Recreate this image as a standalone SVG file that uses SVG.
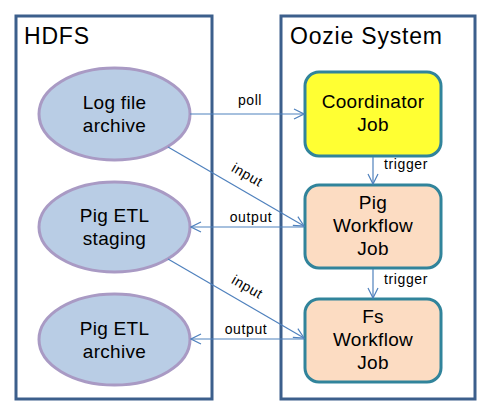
<svg xmlns="http://www.w3.org/2000/svg" width="490" height="415" viewBox="0 0 490 415">
<defs>
<style>
.frame{fill:#fff;stroke:#3C5F8C;stroke-width:3}
.ell{fill:#B9CDE5;stroke:#A99AC4;stroke-width:3}
.job{stroke:#31849B;stroke-width:3}
.t{font-family:"Liberation Sans",Arial,sans-serif;font-size:19px;fill:#000;text-anchor:middle;letter-spacing:0.3px}
.title{font-family:"Liberation Sans",Arial,sans-serif;font-size:23px;fill:#000;letter-spacing:0.8px}
.lbl{font-family:"Liberation Sans",Arial,sans-serif;font-size:14px;fill:#000;text-anchor:middle;letter-spacing:0.6px}
.c{stroke:#4F81BD;stroke-width:1.2;fill:none;marker-end:url(#a)}
</style>
<marker id="a" viewBox="0 0 12 12" refX="11" refY="6" markerWidth="12" markerHeight="12" markerUnits="userSpaceOnUse" orient="auto">
<path d="M1,1 L11,6 L1,11" fill="none" stroke="#4F81BD" stroke-width="1.2"/>
</marker>
</defs>
<g id="hdfs">
<rect class="frame" x="16" y="16" width="196" height="383"/>
<text class="title" x="24" y="44">HDFS</text>
</g>
<g id="oozie">
<rect class="frame" x="281" y="16" width="194" height="383"/>
<text class="title" x="290" y="44">Oozie System</text>
</g>
<g id="logfile">
<ellipse class="ell" cx="114.5" cy="114" rx="75.5" ry="46"/>
<text class="t" x="114.5" y="109">Log file</text>
<text class="t" x="114.5" y="132">archive</text>
</g>
<g id="staging">
<ellipse class="ell" cx="114.5" cy="227" rx="75.5" ry="45"/>
<text class="t" x="114.5" y="222">Pig ETL</text>
<text class="t" x="114.5" y="245">staging</text>
</g>
<g id="etlarchive">
<ellipse class="ell" cx="114.5" cy="339.5" rx="75.5" ry="45.5"/>
<text class="t" x="114.5" y="335">Pig ETL</text>
<text class="t" x="114.5" y="358">archive</text>
</g>
<g id="coord">
<rect class="job" x="305" y="72" width="136" height="84" rx="14" fill="#FFFF33"/>
<text class="t" x="373" y="108">Coordinator</text>
<text class="t" x="373" y="131">Job</text>
</g>
<g id="pigwf">
<rect class="job" x="305" y="185" width="136" height="83" rx="14" fill="#FCDCC2"/>
<text class="t" x="373" y="209">Pig</text>
<text class="t" x="373" y="232">Workflow</text>
<text class="t" x="373" y="255">Job</text>
</g>
<g id="fswf">
<rect class="job" x="305" y="299" width="136" height="83" rx="14" fill="#FCDCC2"/>
<text class="t" x="373" y="323">Fs</text>
<text class="t" x="373" y="346">Workflow</text>
<text class="t" x="373" y="369">Job</text>
</g>
<g id="connectors">
<line class="c" x1="190" y1="114" x2="304" y2="114"/>
<line class="c" x1="373" y1="157" x2="373" y2="184"/>
<line class="c" x1="168" y1="147" x2="304" y2="226"/>
<line class="c" x1="304" y1="227" x2="191" y2="227"/>
<line class="c" x1="168" y1="259" x2="304" y2="338"/>
<line class="c" x1="304" y1="339" x2="191" y2="339"/>
<line class="c" x1="373" y1="269" x2="373" y2="298"/>
<text class="lbl" x="250" y="105">poll</text>
<text class="lbl" x="406" y="169">trigger</text>
<text class="lbl" x="406" y="284">trigger</text>
<text class="lbl" x="251" y="222">output</text>
<text class="lbl" x="246" y="334">output</text>
<text class="lbl" transform="translate(245,179) rotate(30)">input</text>
<text class="lbl" transform="translate(245,291) rotate(30)">input</text>
</g>
</svg>
